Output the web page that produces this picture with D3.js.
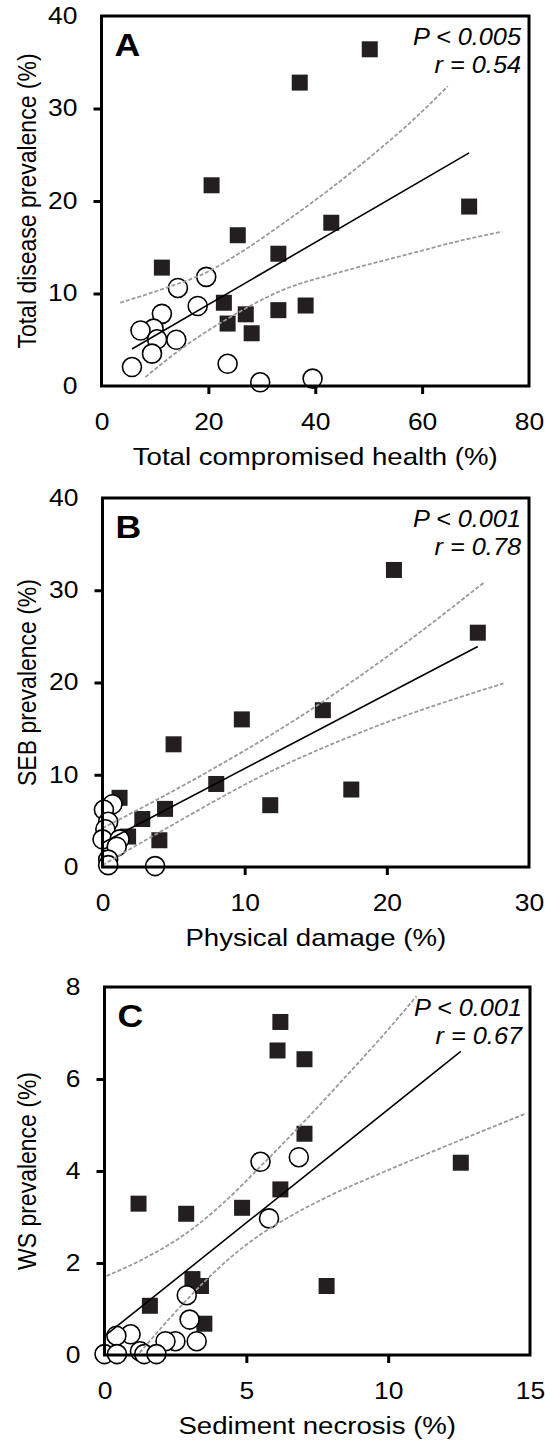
<!DOCTYPE html>
<html>
<head>
<meta charset="utf-8">
<script src="https://cdn.jsdelivr.net/npm/d3@7"></script>
<style>
  html, body { margin: 0; padding: 0; background: #fff; }
  svg { display: block; }
  text { font-family: "Liberation Sans", Arial, sans-serif; fill: #000; }
</style>
</head>
<body>
<svg id="fig" width="545" height="1443"></svg>
<script>
// ---- Panel A: total compromised health vs total disease prevalence ----
const aTicksX = [0, 20, 40, 60, 80];
const aTicksY = [0, 10, 20, 30, 40];
const aFilled = [[50.2, 36.4], [37.1, 32.8], [20.6, 21.7], [68.8, 19.4], [43.0, 17.65],
  [25.5, 16.3], [33.1, 14.3], [11.3, 12.8], [22.9, 9.0], [33.1, 8.2], [38.2, 8.7],
  [27.0, 7.75], [23.6, 6.75], [28.1, 5.7]];
const aOpen = [[19.6, 11.8], [14.3, 10.6], [18.0, 8.65], [11.3, 7.8], [9.75, 6.2],
  [7.3, 6.0], [10.4, 5.05], [14.0, 5.0], [9.45, 3.5], [5.7, 2.05], [23.6, 2.4],
  [29.7, 0.4], [39.5, 0.8]];
const aFit = [[5.7, 4.0], [68.8, 25.2]];
const aUpper = [[3.5, 9.0], [12, 10.6], [19, 12.1], [27, 14.8], [35, 18.0], [43, 21.4],
  [51, 25.1], [58, 28.6], [64.8, 32.4]];
const aLower = [[8.2, 0.96], [15.35, 4.2], [24.7, 7.65], [34, 10.4], [44, 12.2],
  [55.8, 14.0], [68.2, 15.85], [75, 16.7]];

// ---- Panel B: physical damage vs SEB prevalence ----
const bTicksX = [0, 10, 20, 30];
const bTicksY = [0, 10, 20, 30, 40];
const bFilled = [[20.5, 32.2], [26.4, 25.4], [15.5, 17.0], [9.8, 16.0], [5.0, 13.3],
  [8.0, 9.0], [17.5, 8.4], [11.8, 6.7], [4.4, 6.3], [1.2, 7.5], [2.8, 5.2],
  [4.0, 2.9], [1.8, 3.3]];
const bOpen = [[0.7, 6.8], [0.1, 6.2], [0.4, 4.9], [0.2, 4.1], [0.0, 3.0], [1.2, 3.0],
  [1.0, 2.2], [0.4, 0.8], [0.4, 0.2], [3.7, 0.1]];
const bFit = [[0, 2.6], [26.4, 23.9]];
const bUpper = [[0, 4.2], [6.8, 9.8], [13.85, 16.25], [20.9, 23.8], [26.8, 30.8]];
const bLower = [[0, 0.2], [4.5, 4.2], [11.5, 10.1], [18.5, 14.8], [28.2, 19.9]];

// ---- Panel C: sediment necrosis vs WS prevalence ----
const cTicksX = [0, 5, 10, 15];
const cTicksY = [0, 2, 4, 6, 8];
const cFilled = [[6.2, 7.24], [6.1, 6.62], [7.05, 6.43], [7.05, 4.81], [12.56, 4.18],
  [6.2, 3.6], [4.85, 3.2], [1.2, 3.29], [2.88, 3.07], [3.1, 1.65], [3.4, 1.5],
  [7.83, 1.5], [1.6, 1.07], [3.52, 0.68]];
const cOpen = [[5.5, 4.2], [6.85, 4.3], [5.8, 2.97], [2.9, 1.3], [3.0, 0.77], [3.25, 0.3],
  [2.5, 0.3], [2.15, 0.3], [0.92, 0.45], [0.42, 0.42], [0, 0.02], [0.44, 0.02],
  [1.25, 0.08], [1.4, 0.02], [1.83, 0.02]];
const cFit = [[0, 0.41], [12.56, 6.6]];
const cUpper = [[0.07, 1.72], [1.25, 2.05], [3.05, 2.72], [4.27, 3.35], [5.5, 4.1],
  [7.0, 5.05], [8.5, 6.05], [9.75, 6.9], [11.0, 7.8]];
const cLower = [[1.24, 0.05], [2.48, 0.92], [3.5, 1.58], [4.5, 2.15], [5.5, 2.62],
  [6.5, 3.0], [8, 3.48], [10, 4.02], [12.5, 4.66], [14.85, 5.25]];

const panels = [
  { letter: "A", xTitle: "Total compromised health (%)", yTitle: "Total disease prevalence (%)",
    stats: ["P < 0.005", "r = 0.54"],
    xTicks: aTicksX, yTicks: aTicksY, filled: aFilled, open: aOpen, fit: aFit, upper: aUpper, lower: aLower,
    box: { x0: 101.5, x1: 529, y0: 386, y1: 16 } },
  { letter: "B", xTitle: "Physical damage (%)", yTitle: "SEB prevalence (%)",
    stats: ["P < 0.001", "r = 0.78"],
    xTicks: bTicksX, yTicks: bTicksY, filled: bFilled, open: bOpen, fit: bFit, upper: bUpper, lower: bLower,
    box: { x0: 102.5, x1: 529, y0: 867, y1: 498 } },
  { letter: "C", xTitle: "Sediment necrosis (%)", yTitle: "WS prevalence (%)",
    stats: ["P < 0.001", "r = 0.67"],
    xTicks: cTicksX, yTicks: cTicksY, filled: cFilled, open: cOpen, fit: cFit, upper: cUpper, lower: cLower,
    box: { x0: 104.5, x1: 530, y0: 1355, y1: 987 } }
];

const svg = d3.select("#fig");
const SQ = 16;      // square marker side
const RAD = 9.5;    // open circle radius
const WIDEN = 1.15; // lettering is set slightly wide
const FS = 23;      // tick / stats font size
const TFS = 24;     // axis title font size

panels.forEach(p => {
  const b = p.box;
  const x = d3.scaleLinear()
    .domain(d3.extent(p.xTicks)).range([b.x0, b.x1]);
  const y = d3.scaleLinear()
    .domain(d3.extent(p.yTicks)).range([b.y0, b.y1]);
  const g = svg.append("g");

  // axes: outward ticks, labels well clear of the frame
  const xAxis = d3.axisBottom(x).tickValues(p.xTicks).tickSize(8).tickPadding(20)
    .tickFormat(d3.format("d"));
  const yAxis = d3.axisLeft(y).tickValues(p.yTicks).tickSize(8).tickPadding(16)
    .tickFormat(d3.format("d"));

  const gx = g.append("g").attr("transform", `translate(0,${b.y0})`).call(xAxis);
  const gy = g.append("g").attr("transform", `translate(${b.x0},0)`).call(yAxis);
  [gx, gy].forEach(ax => {
    ax.select(".domain").remove();
    ax.selectAll(".tick line").attr("stroke", "#000").attr("stroke-width", 3);
    ax.selectAll(".tick text")
      .attr("font-family", "'Liberation Sans', Arial, sans-serif")
      .attr("font-size", FS).attr("fill", "#000");
  });
  // widen the tick labels about their own anchor
  gx.selectAll(".tick text").attr("transform", `scale(${WIDEN},1)`);
  gy.selectAll(".tick text")
    .attr("x", -(8 + 16) / WIDEN)
    .attr("transform", `scale(${WIDEN},1)`);
  // end ticks coincide with the frame corners
  gx.selectAll(".tick line").filter((d, i, n) => i === 0 || i === n.length - 1).remove();
  gy.selectAll(".tick line").filter((d, i, n) => i === 0 || i === n.length - 1).remove();

  // axis titles
  g.append("text")
    .attr("transform", `translate(${(b.x0 + b.x1) / 2},${b.y0 + 79}) scale(${WIDEN},1)`)
    .attr("text-anchor", "middle").attr("font-size", TFS)
    .text(p.xTitle);
  g.append("text")
    .attr("transform", `translate(36,${(b.y0 + b.y1) / 2}) scale(${WIDEN},1) rotate(-90)`)
    .attr("text-anchor", "middle").attr("font-size", FS)
    .text(p.yTitle);

  // filled squares
  g.append("g").selectAll("rect").data(p.filled).join("rect")
    .attr("x", d => x(d[0]) - SQ / 2).attr("y", d => y(d[1]) - SQ / 2)
    .attr("width", SQ).attr("height", SQ)
    .attr("fill", "#231f20");

  // open circles
  g.append("g").selectAll("circle").data(p.open).join("circle")
    .attr("cx", d => x(d[0])).attr("cy", d => y(d[1])).attr("r", RAD)
    .attr("fill", "#fff").attr("stroke", "#000").attr("stroke-width", 1.6);

  // 95% confidence bands
  const band = d3.line().x(d => x(d[0])).y(d => y(d[1])).curve(d3.curveMonotoneX);
  [p.upper, p.lower].forEach(pts => {
    g.append("path").attr("d", band(pts))
      .attr("fill", "none").attr("stroke", "#9a9a9a").attr("stroke-width", 1.8)
      .attr("stroke-dasharray", "4,2");
  });

  // regression line
  g.append("path").attr("d", d3.line().x(d => x(d[0])).y(d => y(d[1]))(p.fit))
    .attr("fill", "none").attr("stroke", "#000").attr("stroke-width", 1.6);

  // frame
  g.append("rect")
    .attr("x", b.x0).attr("y", b.y1)
    .attr("width", b.x1 - b.x0).attr("height", b.y0 - b.y1)
    .attr("fill", "none").attr("stroke", "#000").attr("stroke-width", 3);

  // panel letter
  g.append("text")
    .attr("transform", `translate(${b.x0 + 13},${b.y1 + 40}) scale(${WIDEN},1)`)
    .attr("font-size", 31).attr("font-weight", "bold")
    .text(p.letter);

  // statistics
  p.stats.forEach((s, i) => {
    g.append("text")
      .attr("transform", `translate(${b.x1 - 8},${b.y1 + 29 + i * 28}) scale(1.1,1)`)
      .attr("text-anchor", "end").attr("font-size", FS).attr("font-style", "italic")
      .text(s);
  });
});
</script>
</body>
</html>
